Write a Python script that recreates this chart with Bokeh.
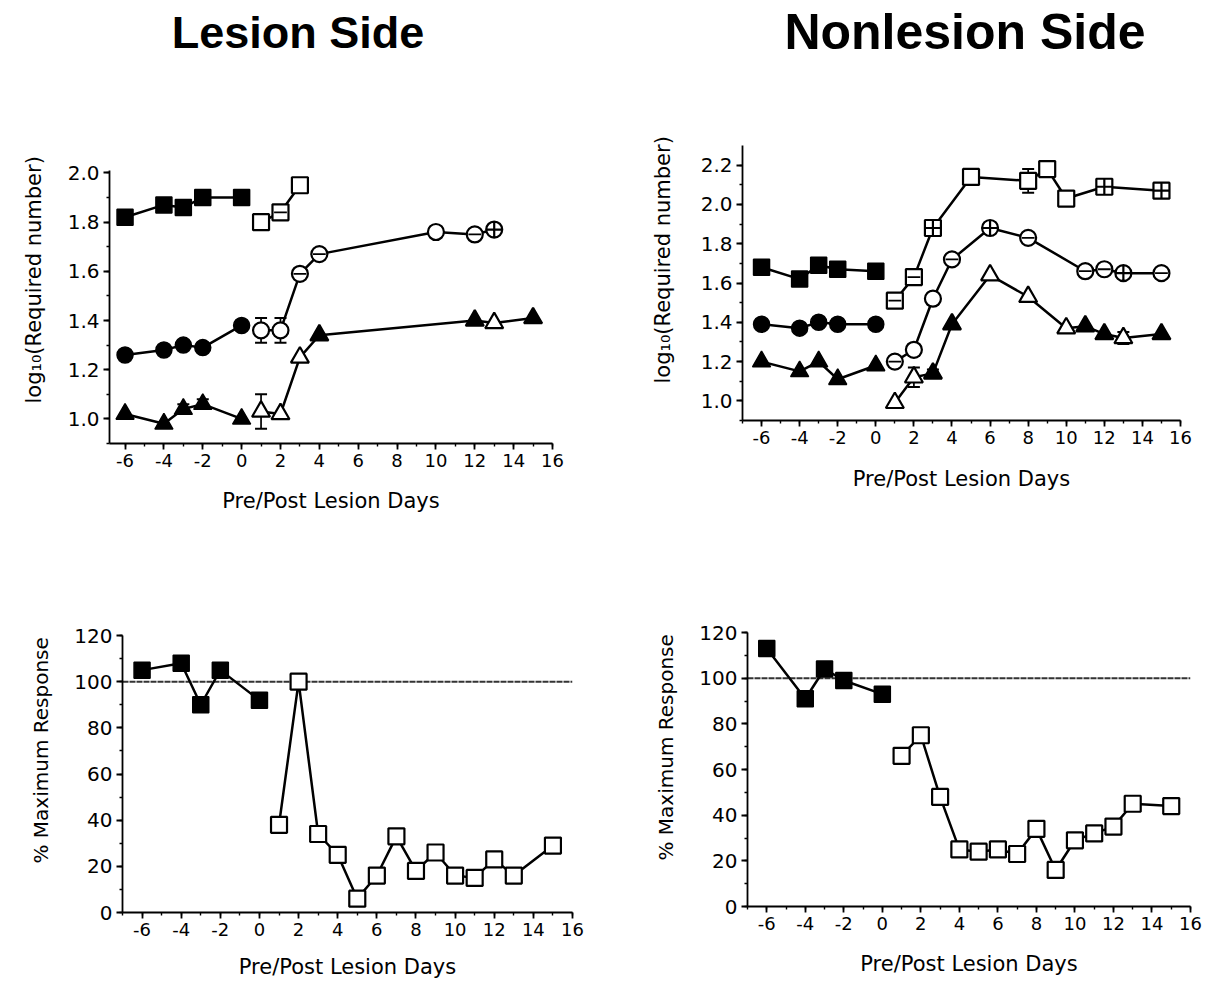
from bokeh.plotting import figure
from bokeh.layouts import column, row
from bokeh.models import (ColumnDataSource, SingleIntervalTicker, Range1d, Span, Title,
                          PrintfTickFormatter)
from bokeh.embed import file_html
from bokeh.resources import INLINE

# ---------------- DATA ----------------
TITLE_LEFT = "Lesion Side"
TITLE_RIGHT = "Nonlesion Side"
X_LABEL = "Pre/Post Lesion Days"
Y_LABEL_LOG = "log\u2081\u2080(Required number)"
Y_LABEL_PCT = "% Maximum Response"

PRE_DAYS = [-6, -4, -3, -2, 0]

# Lesion side - log10(required number)
LS_SQ_PRE = [1.82, 1.87, 1.86, 1.90, 1.90]
LS_SQ_PRE_ERR = [0, 0, 0, 0, 0]
LS_SQ_POST_DAYS = [1, 2, 3]
LS_SQ_POST = [1.80, 1.84, 1.95]
LS_SQ_POST_ERR = [0.03, 0, 0]
LS_SQ_POST_MARK = ["o", "-", "o"]
LS_SQ_POST_FILL = [0, 0, 0]

LS_CI_PRE = [1.26, 1.28, 1.30, 1.29, 1.38]
LS_CI_PRE_ERR = [0, 0, 0, 0, 0]
LS_CI_POST_DAYS = [1, 2, 3, 4, 10, 12, 13]
LS_CI_POST = [1.36, 1.36, 1.59, 1.67, 1.76, 1.75, 1.77]
LS_CI_POST_ERR = [0.05, 0.05, 0, 0, 0, 0, 0]
LS_CI_POST_MARK = ["o", "o", "-", "-", "o", "-", "+"]
LS_CI_POST_FILL = [0, 0, 0, 0, 0, 0, 0]

LS_TR_PRE = [1.02, 0.98, 1.04, 1.06, 1.00]
LS_TR_PRE_ERR = [0, 0, 0.02, 0.02, 0]
LS_TR_POST_DAYS = [1, 2, 3, 4, 12, 13, 15]
LS_TR_POST = [1.03, 1.02, 1.25, 1.34, 1.40, 1.39, 1.41]
LS_TR_POST_ERR = [0.07, 0, 0, 0, 0, 0, 0]
LS_TR_POST_MARK = ["o", "o", "o", "o", "o", "o", "o"]
LS_TR_POST_FILL = [0, 0, 0, 1, 1, 0, 1]

# Nonlesion side - log10(required number)
NS_SQ_PRE = [1.68, 1.62, 1.69, 1.67, 1.66]
NS_SQ_PRE_ERR = [0, 0, 0, 0, 0]
NS_SQ_POST_DAYS = [1, 2, 3, 5, 8, 9, 10, 12, 15]
NS_SQ_POST = [1.51, 1.63, 1.88, 2.14, 2.12, 2.18, 2.03, 2.09, 2.07]
NS_SQ_POST_ERR = [0, 0, 0, 0, 0.06, 0, 0, 0, 0]
NS_SQ_POST_MARK = ["-", "-", "+", "o", "o", "o", "o", "+", "+"]
NS_SQ_POST_FILL = [0, 0, 0, 0, 0, 0, 0, 0, 0]

NS_CI_PRE = [1.39, 1.37, 1.40, 1.39, 1.39]
NS_CI_PRE_ERR = [0, 0, 0, 0, 0]
NS_CI_POST_DAYS = [1, 2, 3, 4, 6, 8, 11, 12, 13, 15]
NS_CI_POST = [1.20, 1.26, 1.52, 1.72, 1.88, 1.83, 1.66, 1.67, 1.65, 1.65]
NS_CI_POST_ERR = [0, 0.03, 0.03, 0, 0, 0, 0, 0, 0, 0]
NS_CI_POST_MARK = ["-", "o", "o", "-", "+", "-", "-", "-", "+", "-"]
NS_CI_POST_FILL = [0, 0, 0, 0, 0, 0, 0, 0, 0, 0]

NS_TR_PRE = [1.20, 1.15, 1.20, 1.11, 1.18]
NS_TR_PRE_ERR = [0, 0, 0, 0, 0]
NS_TR_POST_DAYS = [1, 2, 3, 4, 6, 8, 10, 11, 12, 13, 15]
NS_TR_POST = [0.99, 1.12, 1.14, 1.39, 1.64, 1.53, 1.37, 1.38, 1.34, 1.32, 1.34]
NS_TR_POST_ERR = [0, 0.05, 0.02, 0, 0, 0, 0, 0, 0, 0.03, 0]
NS_TR_POST_MARK = ["o"] * 11
NS_TR_POST_FILL = [0, 0, 1, 1, 0, 0, 0, 1, 1, 0, 1]

# % maximum response
PCT_POST_DAYS = [1, 2, 3, 4, 5, 6, 7, 8, 9, 10, 11, 12, 13, 15]
LS_PCT_PRE = [105, 108, 90, 105, 92]
LS_PCT_POST = [38, 100, 34, 25, 6, 16, 33, 18, 26, 16, 15, 23, 16, 29]
NS_PCT_PRE = [113, 91, 104, 99, 93]
NS_PCT_POST = [66, 75, 48, 25, 24, 25, 23, 34, 16, 29, 32, 35, 45, 44]
REFERENCE_PCT = 100

# ---------------- STYLE HELPERS ----------------
TICK_FONT = "DejaVu Sans"
LABEL_FONT = "DejaVu Sans"

SHAPES = {
    "square": {"o": "square", "+": "square_cross", "-": "square"},
    "circle": {"o": "circle", "+": "circle_cross", "-": "circle"},
    "triangle": {"o": "triangle", "+": "triangle", "-": "triangle"},
}


def no_align(p):
    try:
        p.frame_align = False
    except Exception:
        pass


def title_fig(text, size, standoff, left, right, height):
    p = figure(width=605, height=height, output_backend="svg", toolbar_location=None,
               x_axis_location=None, y_axis_location=None,
               min_border_left=left, min_border_right=right, min_border_top=0,
               min_border_bottom=0)
    p.xgrid.visible = False
    p.ygrid.visible = False
    p.outline_line_color = None
    p.title.text = text
    p.title.align = "center"
    p.title.text_font = "Liberation Sans"
    p.title.text_font_size = size
    p.title.text_font_style = "bold"
    p.title.text_color = "black"
    p.title.standoff = standoff
    no_align(p)
    return p


def make_fig(width, height, xr, yr, yint, yfmt, borders, xlabel_standoff):
    p = figure(width=width, height=height, x_range=Range1d(*xr), y_range=Range1d(*yr),
               output_backend="svg", toolbar_location=None,
               min_border_left=borders[0], min_border_right=borders[1],
               min_border_top=borders[2], min_border_bottom=borders[3])
    no_align(p)
    p.xgrid.visible = False
    p.ygrid.visible = False
    p.outline_line_color = None
    p.background_fill_color = "white"
    p.border_fill_color = "white"
    p.xaxis.ticker = SingleIntervalTicker(interval=2, num_minor_ticks=2)
    p.yaxis.ticker = SingleIntervalTicker(interval=yint, num_minor_ticks=2)
    p.xaxis.formatter = PrintfTickFormatter(format="%d")
    p.yaxis.formatter = PrintfTickFormatter(format=yfmt)
    for ax in (p.xaxis[0], p.yaxis[0]):
        ax.axis_line_width = 1.8
        ax.axis_line_color = "black"
        ax.major_tick_line_width = 1.8
        ax.major_tick_line_color = "black"
        ax.major_tick_out = 6
        ax.major_tick_in = 0
        ax.minor_tick_line_width = 1.4
        ax.minor_tick_line_color = "black"
        ax.minor_tick_out = 3
        ax.minor_tick_in = 0
        ax.major_label_text_font = TICK_FONT
        ax.major_label_text_color = "black"
        ax.major_label_standoff = 4
    p.xaxis.major_label_text_font_size = "18px"
    p.yaxis.major_label_text_font_size = "20px"
    p.xaxis.axis_label = X_LABEL
    p.xaxis.axis_label_text_font = LABEL_FONT
    p.xaxis.axis_label_text_font_size = "21px"
    p.xaxis.axis_label_text_font_style = "normal"
    p.xaxis.axis_label_text_color = "black"
    p.xaxis.axis_label_standoff = xlabel_standoff
    return p


def add_ylabel(p, text, size, standoff, offset):
    t = Title(text=text, align="left", offset=offset, text_font=LABEL_FONT,
              text_font_size=size, text_font_style="normal", text_color="black",
              standoff=standoff)
    p.add_layout(t, "left")


def errors(p, xs, ys, es):
    x = [a for a, e in zip(xs, es) if e > 0]
    y = [b for b, e in zip(ys, es) if e > 0]
    e = [e for e in es if e > 0]
    if not x:
        return
    src = ColumnDataSource(dict(x=x, lo=[a - b for a, b in zip(y, e)], hi=[a + b for a, b in zip(y, e)]))
    p.segment(x0="x", y0="lo", x1="x", y1="hi", source=src, line_color="black", line_width=1.7)
    p.scatter(x="x", y="lo", source=src, marker="dash", size=12, line_color="black", line_width=2)
    p.scatter(x="x", y="hi", source=src, marker="dash", size=12, line_color="black", line_width=2)


def series(p, shape, size, pre_x, pre_y, pre_e, post_x, post_y, post_e, post_mark, post_fill):
    errors(p, pre_x, pre_y, pre_e)
    errors(p, post_x, post_y, post_e)
    p.line(pre_x, pre_y, line_color="black", line_width=2.5)
    p.line(post_x, post_y, line_color="black", line_width=2.5)
    p.scatter(pre_x, pre_y, marker=SHAPES[shape]["o"], size=size, fill_color="black",
              line_color="black", line_width=1.5)
    src = ColumnDataSource(dict(
        x=post_x, y=post_y,
        m=[SHAPES[shape][k] for k in post_mark],
        f=["black" if f else "white" for f in post_fill]))
    p.scatter(x="x", y="y", marker="m", source=src, size=size, fill_color="f",
              line_color="black", line_width=2.2)
    dx = [a for a, k in zip(post_x, post_mark) if k == "-"]
    dy = [b for b, k in zip(post_y, post_mark) if k == "-"]
    if dx:
        p.scatter(dx, dy, marker="dash", size=size * 0.8, line_color="black", line_width=1.8)


# ---------------- TITLES ----------------
t1 = title_fig(TITLE_LEFT, "45px", 10, 0, 10, 62)
t2 = title_fig(TITLE_RIGHT, "50px", 2, 114, 0, 62)

# ---------------- PANELS ----------------
# top-left: Lesion side, log10
p1 = make_fig(605, 498, (-6.8, 16), (0.9, 2.01), 0.2, "%.1f", (108, 53, 108, 117), 19)
add_ylabel(p1, Y_LABEL_LOG, "21px", 38, 40)
series(p1, "square", 16, PRE_DAYS, LS_SQ_PRE, LS_SQ_PRE_ERR, LS_SQ_POST_DAYS, LS_SQ_POST,
       LS_SQ_POST_ERR, LS_SQ_POST_MARK, LS_SQ_POST_FILL)
series(p1, "circle", 16, PRE_DAYS, LS_CI_PRE, LS_CI_PRE_ERR, LS_CI_POST_DAYS, LS_CI_POST,
       LS_CI_POST_ERR, LS_CI_POST_MARK, LS_CI_POST_FILL)
series(p1, "triangle", 18, PRE_DAYS, LS_TR_PRE, LS_TR_PRE_ERR, LS_TR_POST_DAYS, LS_TR_POST,
       LS_TR_POST_ERR, LS_TR_POST_MARK, LS_TR_POST_FILL)

# top-right: Nonlesion side, log10
p2 = make_fig(605, 498, (-7, 16), (0.9, 2.3), 0.2, "%.1f", (137, 30, 83, 140), 20)
add_ylabel(p2, Y_LABEL_LOG, "21px", 45, 37)
series(p2, "square", 16, PRE_DAYS, NS_SQ_PRE, NS_SQ_PRE_ERR, NS_SQ_POST_DAYS, NS_SQ_POST,
       NS_SQ_POST_ERR, NS_SQ_POST_MARK, NS_SQ_POST_FILL)
series(p2, "circle", 16, PRE_DAYS, NS_CI_PRE, NS_CI_PRE_ERR, NS_CI_POST_DAYS, NS_CI_POST,
       NS_CI_POST_ERR, NS_CI_POST_MARK, NS_CI_POST_FILL)
series(p2, "triangle", 18, PRE_DAYS, NS_TR_PRE, NS_TR_PRE_ERR, NS_TR_POST_DAYS, NS_TR_POST,
       NS_TR_POST_ERR, NS_TR_POST_MARK, NS_TR_POST_FILL)

# bottom-left: Lesion side, % max response
p3 = make_fig(605, 422, (-7, 16), (0, 120), 20, "%d", (122, 33, 75, 70), 16)
add_ylabel(p3, Y_LABEL_PCT, "20px", 38, 49)
p3.add_layout(Span(location=REFERENCE_PCT, dimension="width", line_color="#333333",
                   line_width=2, line_dash="6 1", level="underlay"))
series(p3, "square", 16, PRE_DAYS, LS_PCT_PRE, [0] * 5, PCT_POST_DAYS, LS_PCT_POST,
       [0] * 14, ["o"] * 14, [0] * 14)

# bottom-right: Nonlesion side, % max response
p4 = make_fig(605, 422, (-7, 16), (0, 120), 20, "%d", (142, 20, 72, 76), 19)
add_ylabel(p4, Y_LABEL_PCT, "20px", 38, 46)
p4.add_layout(Span(location=REFERENCE_PCT, dimension="width", line_color="#333333",
                   line_width=2, line_dash="6 1", level="underlay"))
series(p4, "square", 16, PRE_DAYS, NS_PCT_PRE, [0] * 5, PCT_POST_DAYS, NS_PCT_POST,
       [0] * 14, ["o"] * 14, [0] * 14)

layout = column(row(t1, t2), row(p1, p2), row(p3, p4))
open("out.html", "w").write(file_html(layout, INLINE))
